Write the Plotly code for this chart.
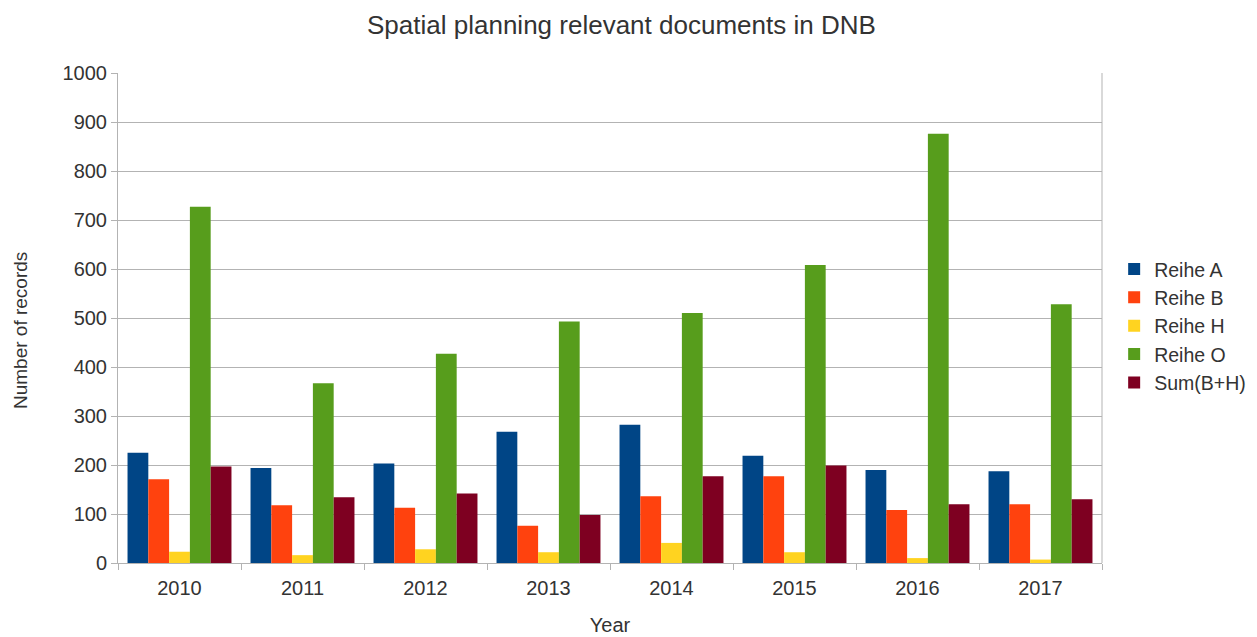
import plotly.graph_objects as go

years = ["2010", "2011", "2012", "2013", "2014", "2015", "2016", "2017"]
reihe_a = [225, 194, 203, 268, 282, 219, 190, 187]
reihe_b = [171, 118, 113, 76, 136, 177, 108, 120]
reihe_h = [23, 16, 28, 22, 41, 22, 10, 7]
reihe_o = [727, 367, 427, 493, 510, 608, 876, 528]
sum_bh = [197, 134, 142, 98, 177, 199, 120, 130]

series = [
    ("Reihe A", reihe_a, "#004586"),
    ("Reihe B", reihe_b, "#ff420e"),
    ("Reihe H", reihe_h, "#ffd320"),
    ("Reihe O", reihe_o, "#579d1c"),
    ("Sum(B+H)", sum_bh, "#7e0021"),
]

fig = go.Figure()
for name, vals, color in series:
    fig.add_trace(go.Bar(x=years, y=vals, name=name, marker=dict(color=color, line=dict(width=0))))

font = "Liberation Sans, Arial, sans-serif"
txt = "#333333"
fig.update_layout(
    width=1257, height=637,
    barmode="group", bargap=0.155, bargroupgap=0,
    plot_bgcolor="white", paper_bgcolor="white",
    margin=dict(l=110, r=163, t=65, b=82, autoexpand=False),
    font=dict(family=font, size=20, color=txt),
    title=dict(text="Spatial planning relevant documents in DNB", x=0.488, xanchor="center",
               y=0.973, yanchor="middle", font=dict(size=26, family=font, color=txt)),
    legend=dict(xref="container", x=0.8800, xanchor="left", y=0.484, yanchor="middle",
                font=dict(size=19.5, color=txt),
                tracegroupgap=0, itemwidth=30, bgcolor="rgba(0,0,0,0)"),
    xaxis=dict(title=dict(text="Year", font=dict(size=20), standoff=19), showgrid=False,
               showline=True, linecolor="#b3b3b3", linewidth=1, automargin=False,
               ticks="outside", tickson="boundaries", ticklen=6, tickcolor="#b3b3b3",
               tickfont=dict(size=20), ticklabelstandoff=7),
    yaxis=dict(range=[0, 1000], dtick=100, showgrid=True, gridcolor="#b3b3b3", gridwidth=1,
               showline=True, linecolor="#b3b3b3", linewidth=1, zeroline=False, automargin=False,
               ticks="outside", ticklen=6, tickcolor="#b3b3b3", tickfont=dict(size=20),
               mirror=False),
)
fig.add_annotation(text="Number of records", xref="paper", yref="paper",
                   x=(20 - 118) / 984, y=(563 - 331) / 490, textangle=-90,
                   showarrow=False, xanchor="center", yanchor="middle",
                   font=dict(size=19, family=font, color=txt))
fig.add_shape(type="line", xref="paper", yref="paper", x0=1, x1=1, y0=0, y1=1,
              line=dict(color="#b3b3b3", width=1))
fig.write_html("out.html")
